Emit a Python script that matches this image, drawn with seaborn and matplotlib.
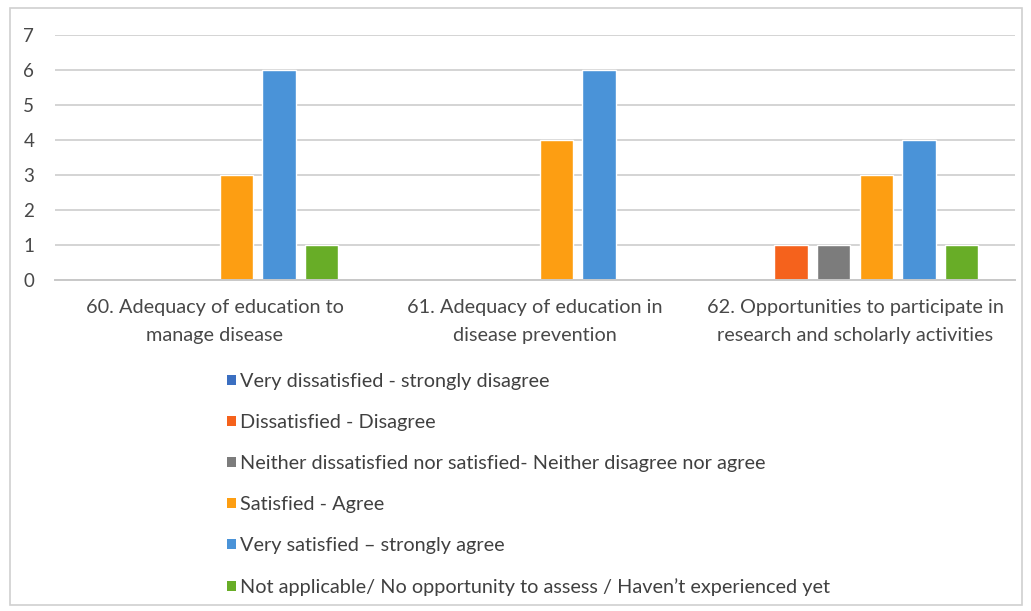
import matplotlib
matplotlib.use("Agg")
import matplotlib.pyplot as plt
import matplotlib.patches as mpatches
import seaborn as sns
import pandas as pd

# Survey items (x-axis categories)
categories = [
    "60. Adequacy of education to\nmanage disease",
    "61. Adequacy of education in\ndisease prevention",
    "62. Opportunities to participate in\nresearch and scholarly activities",
]

# Response options (series)
responses = [
    "Very dissatisfied - strongly disagree",
    "Dissatisfied - Disagree",
    "Neither dissatisfied nor satisfied- Neither disagree nor agree",
    "Satisfied - Agree",
    "Very satisfied \u2013 strongly agree",
    "Not applicable/ No opportunity to assess / Haven\u2019t experienced yet",
]

# Counts per response, one value per category
very_dissatisfied = [0, 0, 0]
dissatisfied = [0, 0, 1]
neither = [0, 0, 1]
satisfied = [3, 4, 3]
very_satisfied = [6, 6, 4]
not_applicable = [1, 0, 1]

y_ticks = [0, 1, 2, 3, 4, 5, 6, 7]

colors = ["#3B6FC1", "#F5621C", "#7C7C7C", "#FD9E12", "#4A93D8", "#68AD27"]

series = [very_dissatisfied, dissatisfied, neither, satisfied, very_satisfied, not_applicable]
rows = []
for resp, vals in zip(responses, series):
    for cat, v in zip(categories, vals):
        rows.append({"category": cat, "response": resp, "count": v})
df = pd.DataFrame(rows)

sns.set_theme(style="white")
plt.rcParams["font.family"] = ["Lato", "DejaVu Sans"]

W, H = 1031, 611
fig = plt.figure(figsize=(W / 100, H / 100), dpi=100)
fig.patch.set_facecolor("white")

ax = fig.add_axes([55 / W, 1 - 280 / H, (1015 - 55) / W, (280 - 35) / H])
sns.barplot(
    data=df, x="category", y="count", hue="response",
    order=categories, hue_order=responses, palette=colors,
    width=0.8, gap=0.22, saturation=1, legend=False, ax=ax,
)

ax.set_ylim(0, 7)
ax.set_yticks(y_ticks)
ax.set_xlim(-0.5, 2.5)
ax.yaxis.grid(True, color="#D4D4D4", linewidth=1.4)
ax.set_axisbelow(True)
for side in ["top", "right", "left"]:
    ax.spines[side].set_visible(False)
ax.spines["bottom"].set_color("#C8C8C8")
ax.spines["bottom"].set_linewidth(1.4)
ax.set_xlabel("")
ax.set_ylabel("")
ax.tick_params(axis="both", length=0, labelcolor="#484848")
ax.tick_params(axis="x", labelsize=14.3, pad=13.5)
ax.tick_params(axis="y", labelsize=13.5, pad=15)
for lbl in ax.get_xticklabels():
    lbl.set_linespacing(1.78)

# Legend stacked below the plot
handles = [mpatches.Patch(facecolor=c, edgecolor="none", label=r) for c, r in zip(colors, responses)]
fig.legend(
    handles=handles, loc="upper left", bbox_to_anchor=(227 / W, 1 - 373 / H),
    frameon=False, ncol=1, fontsize=14.3, labelcolor="#404040",
    handlelength=0.45, handleheight=0.45, handletextpad=0.22,
    labelspacing=1.21, borderpad=0, borderaxespad=0,
)

# Chart area border
fig.add_artist(mpatches.Rectangle((10 / W, 1 - 605 / H), (1022 - 10) / W, (605 - 8) / H,
                                  transform=fig.transFigure, fill=False,
                                  edgecolor="#D0D0D0", linewidth=1.2))

fig.savefig("out.png", dpi=100)
